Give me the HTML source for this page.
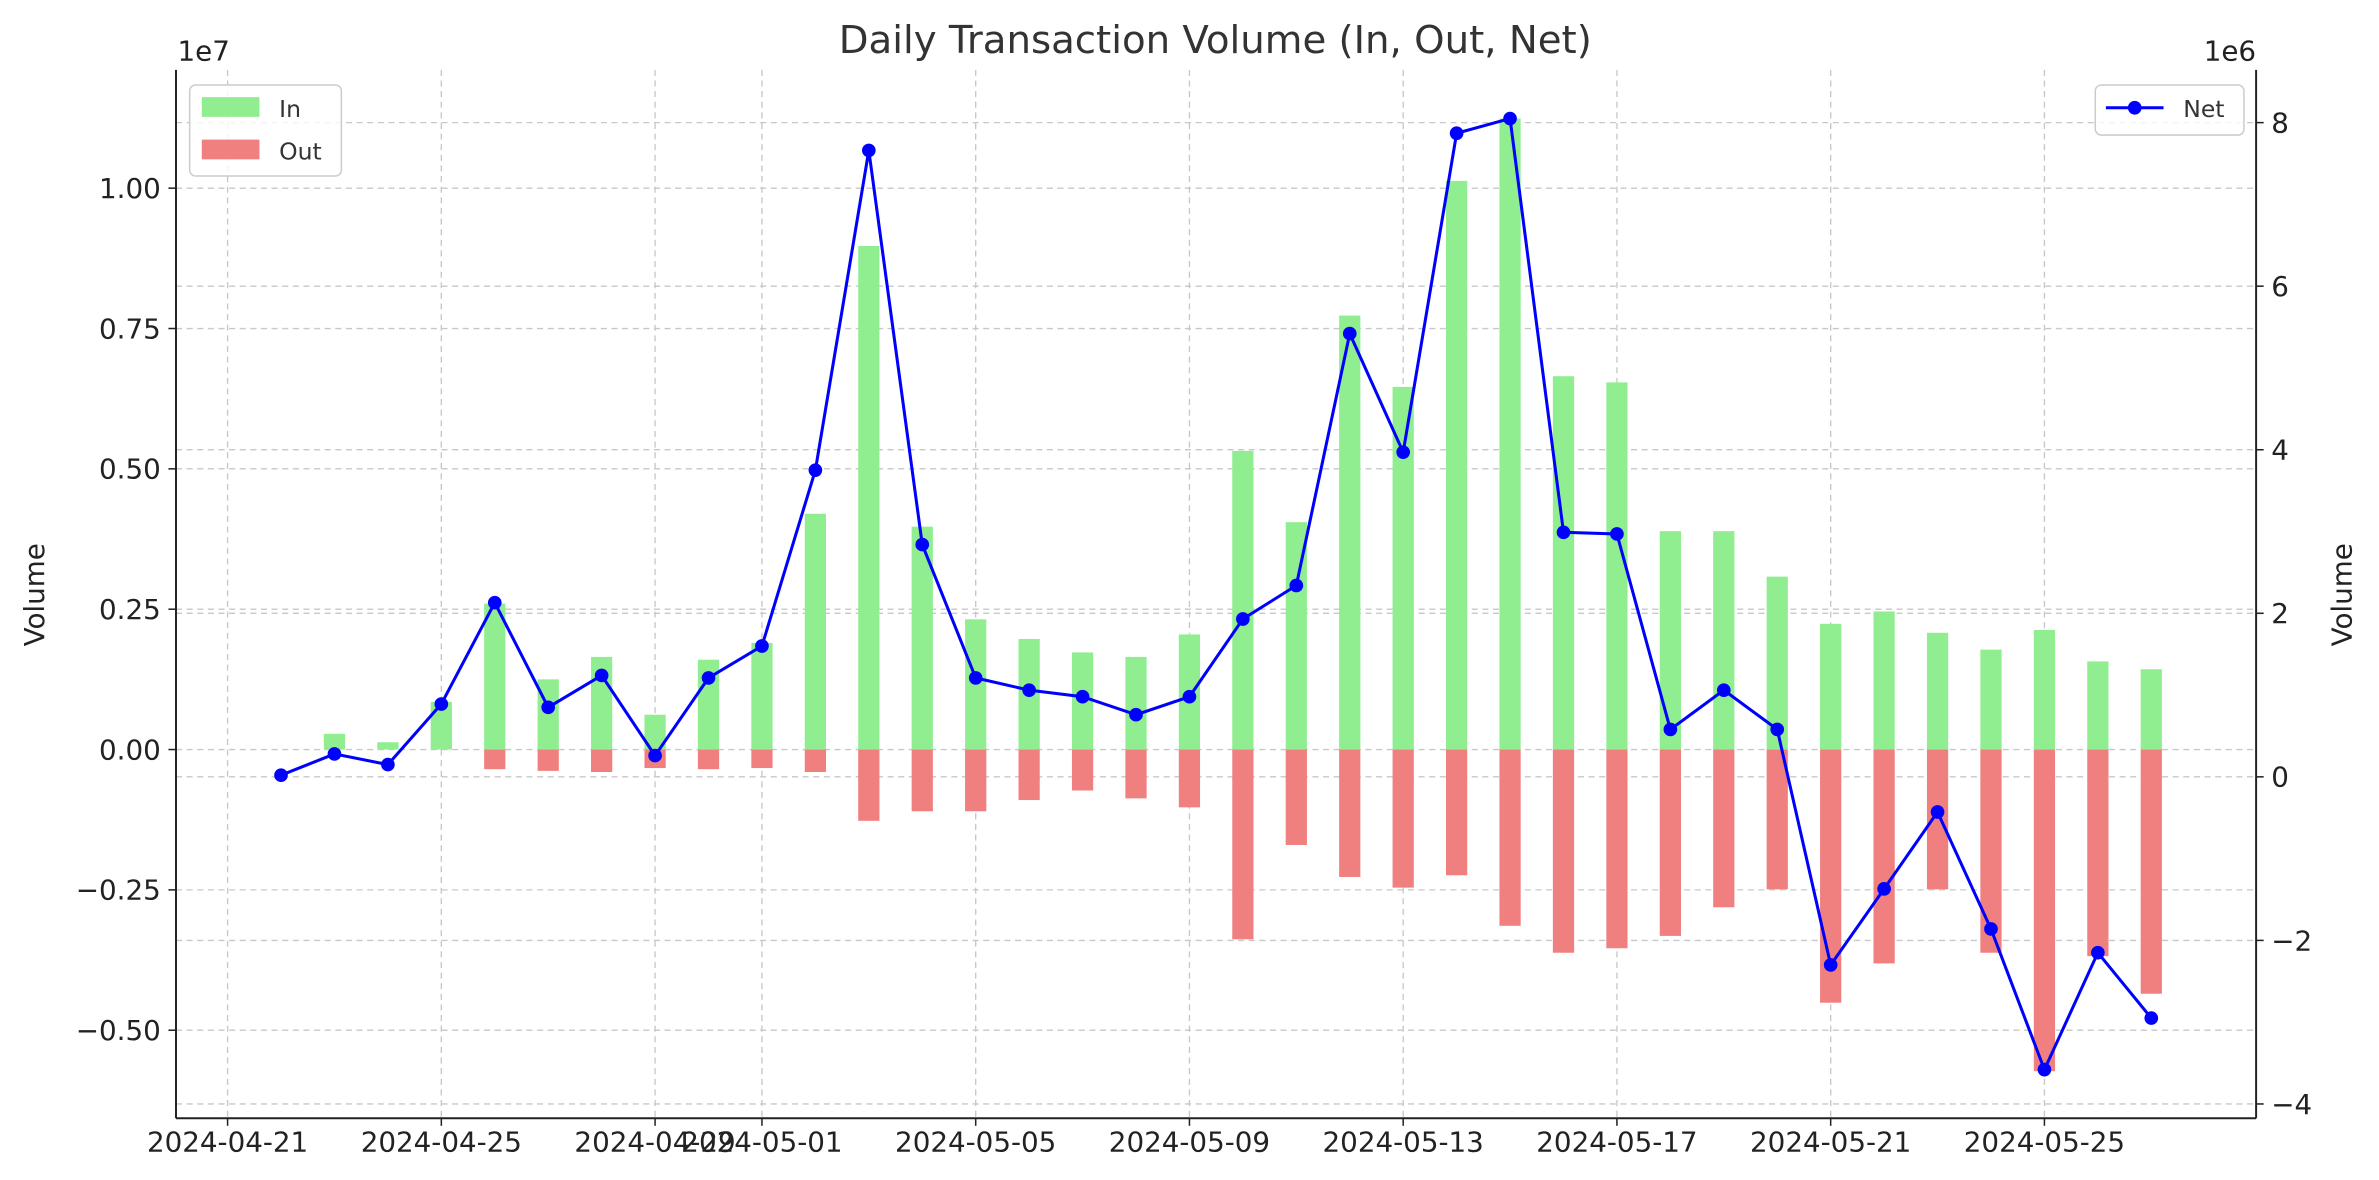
<!DOCTYPE html>
<html><head><meta charset="utf-8"><style>
html,body{margin:0;padding:0;background:#fff;}
svg{display:block;font-family:"DejaVu Sans","Liberation Sans",sans-serif;}
</style></head><body>
<svg id="chart" width="2379" height="1180" viewBox="0 0 1568 777.7" xmlns="http://www.w3.org/2000/svg">
<rect width="1568" height="777.7" fill="#fff"/>
<g id="grid"></g>
<g id="bars"></g>
<g id="line"></g>
<g id="axes"></g>
<text x="801" y="35" text-anchor="middle" font-size="25.5" fill="#333">Daily Transaction Volume (In, Out, Net)</text>
<text x="117" y="40" font-size="18.3" fill="#222">1e7</text>
<text x="1487" y="40" text-anchor="end" font-size="18.3" fill="#222">1e6</text>
<text transform="translate(29,392) rotate(-90)" text-anchor="middle" font-size="18.3" fill="#222">Volume</text>
<text transform="translate(1550,392) rotate(-90)" text-anchor="middle" font-size="18.3" fill="#222">Volume</text>
<g>
<rect x="125" y="56" width="100" height="60" rx="4" fill="#fff" fill-opacity="0.8" stroke="#ccc" stroke-width="1"/>
<rect x="133" y="64" width="38" height="13" fill="#90EE90"/>
<text x="184" y="77" font-size="15.5" fill="#333">In</text>
<rect x="133" y="92" width="38" height="13" fill="#F08080"/>
<text x="184" y="105" font-size="15.5" fill="#333">Out</text>
</g>
<g>
<rect x="1381" y="56" width="98" height="33" rx="4" fill="#fff" fill-opacity="0.8" stroke="#ccc" stroke-width="1"/>
<line x1="1388" y1="71" x2="1426" y2="71" stroke="#0000ff" stroke-width="2"/>
<circle cx="1407" cy="71" r="4.5" fill="#0000ff"/>
<text x="1439" y="77" font-size="15.5" fill="#333">Net</text>
</g>
</svg>
<script>
const dates = ["2024-04-22","2024-04-23","2024-04-24","2024-04-25","2024-04-26","2024-04-27","2024-04-28","2024-04-29","2024-04-30","2024-05-01","2024-05-02","2024-05-03","2024-05-04","2024-05-05","2024-05-06","2024-05-07","2024-05-08","2024-05-09","2024-05-10","2024-05-11","2024-05-12","2024-05-13","2024-05-14","2024-05-15","2024-05-16","2024-05-17","2024-05-18","2024-05-19","2024-05-20","2024-05-21","2024-05-22","2024-05-23","2024-05-24","2024-05-25","2024-05-26","2024-05-27"];
const inValues = [0,0.028,0.013,0.085,0.26,0.125,0.165,0.062,0.16,0.19,0.42,0.897,0.397,0.232,0.197,0.173,0.165,0.205,0.532,0.405,0.773,0.646,1.013,1.124,0.665,0.654,0.389,0.389,0.308,0.224,0.246,0.208,0.178,0.213,0.157,0.143];
const outValues = [0,0,0,0,-0.035,-0.038,-0.04,-0.033,-0.035,-0.033,-0.04,-0.127,-0.11,-0.11,-0.09,-0.073,-0.087,-0.103,-0.338,-0.17,-0.227,-0.246,-0.224,-0.314,-0.362,-0.354,-0.332,-0.281,-0.249,-0.451,-0.381,-0.249,-0.362,-0.573,-0.368,-0.435];
const netValues = [0.02,0.28,0.15,0.89,2.13,0.85,1.24,0.26,1.21,1.6,3.75,7.66,2.84,1.21,1.06,0.98,0.76,0.98,1.93,2.34,5.42,3.97,7.87,8.05,2.99,2.97,0.58,1.06,0.58,-2.3,-1.37,-0.43,-1.86,-3.58,-2.15,-2.95];
const xTickLabels = ["2024-04-21","2024-04-25","2024-04-29","2024-05-01","2024-05-05","2024-05-09","2024-05-13","2024-05-17","2024-05-21","2024-05-25"];
const leftTicks = [-0.5,-0.25,0,0.25,0.5,0.75,1.0];
const leftTickLabels = ["\u22120.50","\u22120.25","0.00","0.25","0.50","0.75","1.00"];
const rightTicks = [-4,-2,0,2,4,6,8];
const rightTickLabels = ["\u22124","\u22122","0","2","4","6","8"];

const NS="http://www.w3.org/2000/svg";
const L=116,R=1487,T=46,B=737;
const day0=Date.UTC(2024,3,21);
function dayIdx(s){const p=s.split("-");return (Date.UTC(+p[0],+p[1]-1,+p[2])-day0)/86400000;}
function xS(s){return 150+dayIdx(s)*35.22;}
function yL(v){return 494-v*370;}
function yR(v){return 512-v*53.9;}
function mk(tag,attrs,parent){const e=document.createElementNS(NS,tag);for(const k in attrs)e.setAttribute(k,attrs[k]);parent.appendChild(e);return e;}
const grid=document.getElementById("grid"),bars=document.getElementById("bars"),line=document.getElementById("line"),axes=document.getElementById("axes");
const gs={stroke:"#c8c8c8","stroke-width":0.9,"stroke-dasharray":"4,3"};
xTickLabels.forEach(d=>{const x=xS(d);
 const g=mk("line",Object.assign({x1:x,x2:x,y1:T,y2:B},gs),grid);
 
 
 mk("line",{x1:x,x2:x,y1:B,y2:B+5,stroke:"#222","stroke-width":1},axes);
 const t=mk("text",{x:x,y:B+22,"text-anchor":"middle","font-size":18.3,fill:"#222"},axes);t.textContent=d;
 
 
});
leftTicks.forEach((v,i)=>{const y=yL(v);
 const g=mk("line",Object.assign({x1:L,x2:R,y1:y,y2:y},gs),grid);
 
 
 mk("line",{x1:L-5,x2:L,y1:y,y2:y,stroke:"#222","stroke-width":1},axes);
 const t=mk("text",{x:L-10,y:y+6.5,"text-anchor":"end","font-size":18.3,fill:"#222"},axes);t.textContent=leftTickLabels[i];
 
 
});
rightTicks.forEach((v,i)=>{const y=yR(v);
 const g=mk("line",Object.assign({x1:L,x2:R,y1:y,y2:y},gs),grid);
 
 
 mk("line",{x1:R,x2:R+5,y1:y,y2:y,stroke:"#222","stroke-width":1},axes);
 const t=mk("text",{x:R+10,y:y+6.5,"font-size":18.3,fill:"#222"},axes);t.textContent=rightTickLabels[i];
 
 
});
mk("line",{x1:L,x2:L,y1:T,y2:B,stroke:"#222","stroke-width":1.3},axes);
mk("line",{x1:L,x2:R,y1:B,y2:B,stroke:"#222","stroke-width":1.3},axes);
mk("line",{x1:R,x2:R,y1:T,y2:B,stroke:"#222","stroke-width":1.3},axes);
const bw=14;
dates.forEach((d,i)=>{const x=xS(d)-bw/2;
 const a=inValues[i];
 const b1=mk("rect",{x:x,y:Math.min(yL(a),yL(0)),width:bw,height:Math.abs(yL(a)-yL(0)),fill:"#90EE90"},bars);
 
 
 const o=outValues[i];
 const b2=mk("rect",{x:x,y:Math.min(yL(o),yL(0)),width:bw,height:Math.abs(yL(o)-yL(0)),fill:"#F08080"},bars);
 
 
});
const pts=dates.map((d,i)=>xS(d)+","+yR(netValues[i])).join(" ");
const pl=mk("polyline",{points:pts,fill:"none",stroke:"#0000ff","stroke-width":2},line);


dates.forEach((d,i)=>{const c=mk("circle",{cx:xS(d),cy:yR(netValues[i]),r:4.5,fill:"#0000ff"},line);
 
 
});
</script>
</body></html>
